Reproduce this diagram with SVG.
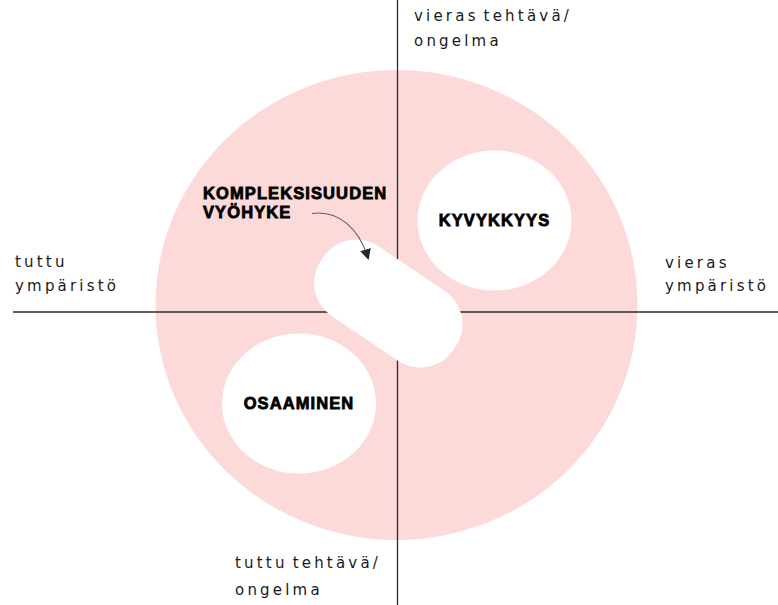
<svg xmlns="http://www.w3.org/2000/svg" width="778" height="605" viewBox="0 0 778 605">
  <defs>
    <style>
      .axis { stroke: #2b2b2b; stroke-width: 1.3; fill: none; }
      .zone { fill: #ffffff; }
      .title { font-family: "Liberation Sans", Arial, sans-serif; font-weight: bold; font-size: 16.5px; letter-spacing: 1.1px; fill: #000; stroke: #000; stroke-width: 0.8; }
      .hand { font-family: "DejaVu Sans", "Noto Sans", sans-serif; font-weight: normal; font-size: 15px; letter-spacing: 3.2px; word-spacing: -3px; fill: #1a1a1a; }
      .pointer { stroke: #5a6270; stroke-width: 1.1; fill: none; }
    </style>
    <marker id="arrowhead" viewBox="0 0 10 10" refX="8" refY="5" markerWidth="11" markerHeight="11" markerUnits="userSpaceOnUse" orient="auto">
      <path d="M0,0 L10,5 L0,10 z" fill="#1f2833"/>
    </marker>
  </defs>

  <rect width="778" height="605" fill="#ffffff"/>

  <!-- background disc -->
  <ellipse id="disc" cx="396.5" cy="305" rx="241" ry="235" fill="#fcdada"/>

  <!-- axes -->
  <g id="axes">
    <line class="axis" x1="397.5" y1="0" x2="397.5" y2="605"/>
    <line class="axis" x1="13" y1="312" x2="778" y2="312"/>
  </g>

  <!-- zones -->
  <g id="kyvykkyys">
    <ellipse class="zone" cx="494.5" cy="220.5" rx="77" ry="70"/>
    <text class="title" x="494.5" y="226" text-anchor="middle">KYVYKKYYS</text>
  </g>

  <g id="osaaminen">
    <ellipse class="zone" cx="299" cy="403.5" rx="77" ry="70"/>
    <text class="title" x="299" y="409" text-anchor="middle">OSAAMINEN</text>
  </g>

  <g id="kompleksisuuden-vyohyke">
    <rect class="zone" x="-80" y="-42" width="160" height="84" rx="40" ry="40" transform="translate(388.3 303.5) rotate(34)"/>
    <text class="title" x="203" y="198.5">KOMPLEKSISUUDEN</text>
    <text class="title" x="203" y="217.5">VYÖHYKE</text>
  </g>

  <!-- connectors -->
  <g id="connectors">
    <path class="pointer" d="M312,213.5 C338,210 359,228 368,258" marker-end="url(#arrowhead)"/>
  </g>

  <!-- axis labels -->
  <g id="label-top">
    <text class="hand" x="414" y="21">vieras tehtävä/</text>
    <text class="hand" x="414" y="46">ongelma</text>
  </g>
  <g id="label-bottom">
    <text class="hand" x="235" y="568">tuttu tehtävä/</text>
    <text class="hand" x="235" y="595">ongelma</text>
  </g>
  <g id="label-left">
    <text class="hand" x="15" y="267">tuttu</text>
    <text class="hand" x="15" y="291">ympäristö</text>
  </g>
  <g id="label-right">
    <text class="hand" x="665" y="268">vieras</text>
    <text class="hand" x="665" y="291">ympäristö</text>
  </g>
</svg>
